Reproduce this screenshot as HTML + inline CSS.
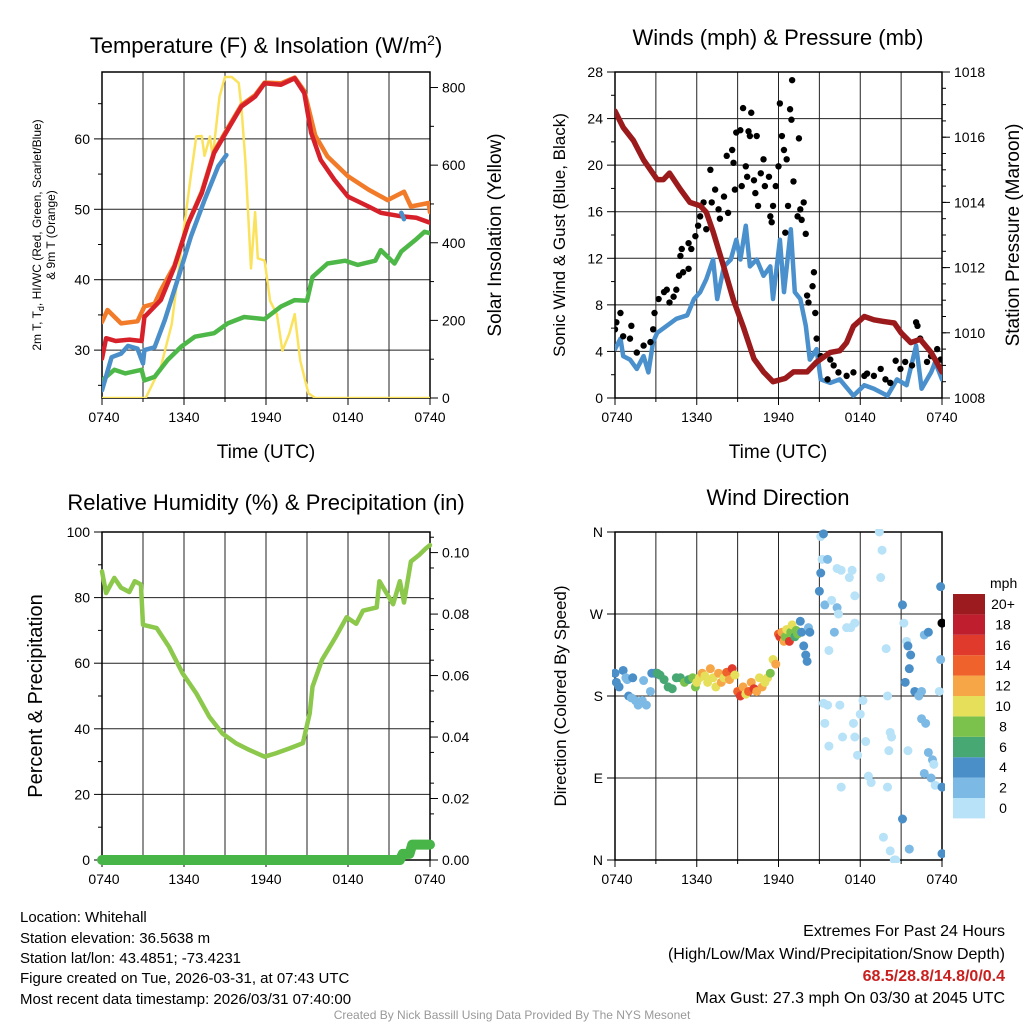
<!DOCTYPE html>
<html><head><meta charset="utf-8"><style>
html,body{margin:0;padding:0;background:#fff;}
svg{display:block;font-family:"Liberation Sans",sans-serif;}
</style></head><body>
<svg id="c" width="1024" height="1024" viewBox="0 0 1024 1024" xmlns="http://www.w3.org/2000/svg">
<text x="266" y="53" text-anchor="middle" font-size="22">Temperature (F) &amp; Insolation (W/m<tspan dy="-8" font-size="14">2</tspan><tspan dy="8">)</tspan></text>
<text x="778" y="45" text-anchor="middle" font-size="22">Winds (mph) &amp; Pressure (mb)</text>
<text x="266" y="510" text-anchor="middle" font-size="22">Relative Humidity (%) &amp; Precipitation (in)</text>
<text x="778" y="505" text-anchor="middle" font-size="22">Wind Direction</text>
<text x="266" y="458" text-anchor="middle" font-size="19">Time (UTC)</text>
<text x="778" y="458" text-anchor="middle" font-size="19">Time (UTC)</text>
<text transform="translate(41,235) rotate(-90)" text-anchor="middle" font-size="12">2m T, T<tspan dy="3" font-size="9">d</tspan><tspan dy="-3">, HI/WC (Red, Green, Scarlet/Blue)</tspan></text>
<text transform="translate(55,235) rotate(-90)" text-anchor="middle" font-size="12">&amp; 9m T (Orange)</text>
<text transform="translate(501,235) rotate(-90)" text-anchor="middle" font-size="19">Solar Insolation (Yellow)</text>
<text transform="translate(565,235) rotate(-90)" text-anchor="middle" font-size="17">Sonic Wind &amp; Gust (Blue, Black)</text>
<text transform="translate(1019,235) rotate(-90)" text-anchor="middle" font-size="19">Station Pressure (Maroon)</text>
<text transform="translate(42,696) rotate(-90)" text-anchor="middle" font-size="20">Percent &amp; Precipitation</text>
<text transform="translate(566,696) rotate(-90)" text-anchor="middle" font-size="17">Direction (Colored By Speed)</text>
<g font-size="15">
<text x="20" y="922">Location: Whitehall</text>
<text x="20" y="943">Station elevation: 36.5638 m</text>
<text x="20" y="963">Station lat/lon: 43.4851; -73.4231</text>
<text x="20" y="983">Figure created on Tue, 2026-03-31, at 07:43 UTC</text>
<text x="20" y="1004">Most recent data timestamp: 2026/03/31 07:40:00</text>
</g>
<g font-size="16" text-anchor="end">
<text x="1005" y="936">Extremes For Past 24 Hours</text>
<text x="1005" y="959">(High/Low/Max Wind/Precipitation/Snow Depth)</text>
<text x="1005" y="981" fill="#c8201f" font-weight="bold">68.5/28.8/14.8/0/0.4</text>
<text x="1005" y="1003">Max Gust: 27.3 mph On 03/30 at 2045 UTC</text>
</g>
<text x="512" y="1019" text-anchor="middle" font-size="12" fill="#999">Created By Nick Bassill Using Data Provided By The NYS Mesonet</text>
</svg>
<script>
// ---- data (hours since 0740 UTC) ----
const xTickHours=[0,6,12,18,24];
const xTickLabels=["0740","1340","1940","0140","0740"];
const redT=[0,0.3,1,2,2.9,3.1,4.3,5.3,6.3,7.3,8.2,9.2,10.2,11.2,11.9,13.1,14.1,14.8,15.3,16,17,18,19.5,20.4,21.9,23,24];
const redV=[28.8,31.7,31.3,31.5,31.3,34.7,37.1,41.8,48,52.3,58,61.3,64.6,66,67.9,67.7,68.6,66.5,60.9,57,54.2,51.8,50.4,49.5,49,48.8,48.1];
const orangeT=[0,0.4,1.4,2.6,3.1,3.85,4.3,5.3,6.3,7.3,8.2,9.2,10.2,11.2,11.9,13.1,14.1,14.8,15.6,16.5,18,19.5,20.9,22.1,22.6,23.9,24];
const orangeV=[34,35.7,33.8,34.1,36.2,36.6,38.5,42,48,52.5,58.2,61.5,64.8,66.2,68,67.9,68.7,66.8,60.5,57.5,54.7,52.8,51.3,52.5,50.4,50.9,49.6];
const blueT=[0,0.7,1.4,1.9,2.6,3,3.1,3.85,4.6,5.6,6.5,7.5,8.5,9.1];
const blueV=[24.3,29,29.5,30.6,30.2,28.1,30,30.4,34.3,40.4,46.1,51.3,56.1,57.7];
const blue2T=[21.9,22.1];
const blue2V=[49.5,48.6];
const greenT=[0,0.9,1.7,2.9,3.1,3.85,4.8,5.8,6.8,8.2,9.2,10.4,11.9,13.1,14.1,15,15.4,16.5,17.8,18.7,20,20.4,21.4,21.9,22.9,23.6,24];
const greenV=[25.7,27.2,26.7,27.2,25.7,26.2,28.6,30.5,31.9,32.4,33.8,34.7,34.4,36.2,37.1,37,40.4,42.3,42.7,42.1,42.7,44.2,42.3,44,45.6,46.8,46.6];
const solarT=[0,3.2,3.6,4.3,5.1,5.8,6.5,6.9,7.3,7.5,7.9,8.1,8.6,9,9.5,10,10.2,10.5,10.9,11.2,11.4,11.9,12.3,12.8,13.2,13.7,14.1,14.5,15.1,15.6,24];
const solarV=[0,0,29,80,190,385,572,674,675,624,674,620,776,827,827,812,750,606,334,479,360,354,250,216,122,165,216,97,12,0,0];
const windT=[0,0.4,0.6,1.1,1.6,2.1,2.45,2.8,3.1,3.8,4.5,5.3,5.8,6.25,6.7,7.2,7.5,8,8.5,8.9,9.2,9.6,9.9,10.4,10.9,11.4,11.6,12.1,12.4,12.9,13.2,13.6,14,14.3,14.8,15.1,15.8,16.5,17.5,18.3,19,20,20.7,21.4,22.1,22.5,23.2,23.5,24];
const windV=[4.2,5.1,3.6,3.3,2.5,3.6,2.2,4.8,5.6,6.2,6.8,7.1,8.5,9.1,10.2,11.9,8.5,11.3,11.9,13.6,11.9,14.8,11.3,11.9,10.5,11.3,8.5,13.6,9.1,14.5,9.1,8.5,6.2,3.3,4.2,1.6,1.3,1.6,0.2,1.1,0.8,0.2,1.6,1.1,4.5,0.8,2.2,3.1,1.6];
const gustT=[0,0.1,0.4,0.6,1.1,1.2,1.6,2.1,2.6,2.8,2.9,3.2,3.6,3.8,4.0,4.3,4.5,4.7,5.0,5.4,4.8,4.9,5.4,5.6,5.9,6.1,6.25,6.5,6.7,7.0,7.1,7.35,7.6,7.7,8.0,8.2,8.3,8.6,8.7,8.8,8.9,9.2,9.3,9.4,9.6,9.7,9.8,9.9,10.0,10.2,10.3,10.4,10.5,10.7,10.9,11.0,11.3,11.4,11.5,11.6,11.8,12.0,12.1,12.25,12.4,12.5,12.6,12.7,12.85,12.95,13.0,13.1,13.4,13.5,13.6,13.7,13.85,14.0,14.1,14.2,14.5,14.6,14.7,14.8,15.1,15.6,15.8,16.05,16.4,17.0,17.5,18.3,18.5,19.0,19.5,19.85,20.2,20.6,20.95,21.3,21.8,22.1,22.2,22.4,22.9,23.2,23.65,23.9];
const gustV=[5.9,6.5,7.3,5.3,5.1,6.2,3.9,4.5,4.8,5.9,7.3,8.5,9.1,9.3,8.2,8.7,9.3,10.5,10.8,11.1,12.2,12.8,13.3,12.8,13.9,14.8,15.6,16.8,14.5,19.6,16.8,17.9,16.2,15.4,17.3,20.8,15.9,21.3,20.2,17.9,22.8,23,18.2,24.9,19.9,19,22.9,22.5,24.5,18.7,17.6,22.5,16.5,19.3,20.5,18.2,19,15.6,15.1,16.5,18.2,19.9,25.3,22.5,21.3,14.2,20.5,16.5,24.8,23.9,27.3,18.6,15.6,22.3,16.2,15.3,16.8,14.1,8.8,8.2,9.6,10.8,7.3,5.1,3.6,1.6,3.3,2.8,2.2,1.9,2.2,1.9,2.1,1.9,2.5,1.6,1.3,3.2,2.5,3.1,2.8,6.5,6.2,5.1,3.1,3.6,4.2,3.3];
const presT=[0,0.6,1.35,2.1,3.1,3.55,4,4.8,5.5,6.25,6.7,7.2,8,8.7,9.4,10.2,10.9,11.6,12.5,13.1,13.6,14.1,14.8,15.8,16.5,17,17.5,18.3,19,19.7,20.5,21,21.7,22.4,23.2,24];
const presV=[1016.8,1016.3,1015.9,1015.3,1014.7,1014.7,1014.9,1014.4,1014.0,1013.9,1013.7,1013.1,1012.0,1011.0,1010.2,1009.2,1008.8,1008.5,1008.6,1008.8,1008.8,1008.8,1009.1,1009.4,1009.45,1009.7,1010.2,1010.5,1010.4,1010.35,1010.3,1010.0,1009.7,1009.8,1009.4,1008.8];
const rhT=[0,0.3,0.9,1.4,2.0,2.4,2.85,3.0,4.0,4.9,5.9,6.9,7.85,8.8,9.8,10.8,11.9,12.7,13.7,14.7,15.2,15.4,16.1,17.1,17.9,18.6,19.1,20.1,20.3,21.3,21.8,22.1,22.6,23.2,23.7,24];
const rhV=[88,81.4,86,83,81.7,85,84,71.7,70.7,65,56.9,50.8,43.7,38.6,35.6,33.5,31.5,32.5,34,35.6,44.7,52.8,61,68,74,72,76,77,85,78,85,78.5,91,93,95,96];
const precipT=[0,21.8,22.0,22.5,22.7,24];
const precipV=[0,0,0.002,0.002,0.005,0.005];
const dirT=[0,0.1,0.3,0.6,0.8,0.9,1.0,1.2,1.3,1.5,1.7,2.0,2.1,2.3,2.6,2.7,2.9,3.1,3.3,3.6,3.9,4.2,4.5,4.8,5.1,5.4,5.7,5.9,6.0,6.2,6.4,6.6,6.8,7.0,7.2,7.4,7.6,7.8,8.0,8.2,8.4,8.6,8.8,9.0,9.2,9.4,9.6,9.8,10.0,10.2,10.4,10.6,10.8,11.0,11.2,11.4,11.6,11.8,12.0,12.1,12.25,12.4,12.5,12.6,12.8,12.9,13.0,13.2,13.3,13.4,13.6,13.7,13.85,14.0,14.1,14.2,14.3,15.1,15.3,15.2,15.6,15.1,15.0,15.4,15.7,15.9,16.3,16.6,16.3,17.0,17.3,17.2,17.4,17.6,17.6,16.4,16.1,15.4,15.3,15.6,15.7,16.5,16.7,16.6,17.5,17.6,17.8,18.0,18.2,18.4,18.6,18.8,19.4,19.6,19.5,19.9,20.0,20.2,20.3,20.1,20.0,19.7,20.2,20.5,20.6,21.2,21.4,21.5,21.3,21.6,21.7,22.0,22.3,22.5,22.8,23.0,23.3,23.4,23.2,23.5,24.0,24.0,21.6,21.1,21.1,21.5,22.7,23.0,22.7,22.5,23.8,23.9,23.9,24.0];
const dirV=[205,195,190,208,200,198,180,178,200,175,170,175,197,170,185,205,205,205,203,198,190,188,200,200,195,198,200,190,195,200,205,202,195,210,200,190,205,195,200,206,198,210,203,185,180,190,182,185,195,188,185,200,190,195,200,205,220,215,248,245,250,240,245,253,240,250,258,245,252,248,262,250,235,225,218,255,250,355,358,330,330,315,295,280,230,285,320,318,277,255,255,310,318,260,290,270,250,150,172,170,125,170,135,80,150,135,115,160,175,130,92,85,360,340,310,232,180,140,135,120,80,25,10,0,0,260,240,235,195,210,225,185,180,155,150,118,110,105,90,82,80,7,12,45,280,120,247,250,95,185,185,300,220,260];
const dirS=[4,4,4,4,2,2,4,2,4,2,2,2,2,2,2,4,4,6,6,6,6,6,6,6,8,6,8,8,10,10,12,10,10,12,10,10,12,12,10,14,12,16,10,14,16,12,10,14,12,16,12,10,12,10,10,8,10,12,14,16,12,12,8,10,16,8,10,6,8,8,4,4,4,4,4,2,4,0,4,0,2,4,4,2,0,0,0,0,2,0,0,0,0,0,0,0,2,0,0,0,0,0,0,0,0,0,0,0,0,0,0,0,0,0,0,0,0,0,0,0,0,0,0,0,0,0,0,4,4,4,4,4,2,2,2,2,2,0,2,0,4,4,2,4,4,0,2,4,2,2,0,4,2];
const cbLabels=["0","2","4","6","8","10","12","14","16","18","20+"];
const cbColors=["#b7e2f7","#7db9e5","#4a8fc7","#48a874","#7bc24c","#e6df5a","#f7a647","#f0622b","#e03a2d","#be1e2d","#9b1b1f"];

const NS="http://www.w3.org/2000/svg";
const svg=document.getElementById('c');
function el(tag,attrs,parent){const e=document.createElementNS(NS,tag);for(const k in attrs)e.setAttribute(k,attrs[k]);(parent||svg).appendChild(e);return e;}
function scale(d0,d1,r0,r1){return v=>r0+(v-d0)/(d1-d0)*(r1-r0);}
function pathD(ts,vs,sx,sy){return ts.map((t,i)=>(i?'L':'M')+sx(t).toFixed(1)+' '+sy(vs[i]).toFixed(1)).join(' ');}

function frame(name,x0,x1,y0,y1,left,right){
  const g=el('g',{});
  
  
  const sx=scale(0,24,x0,x1);
  const syL=scale(left.min,left.max,y1,y0);
  // vertical grid every 3h
  for(let h=3;h<24;h+=3){const l=el('line',{x1:sx(h),x2:sx(h),y1:y0,y2:y1,stroke:'#222','stroke-width':1},g);
    }
  left.ticks.forEach((v,i)=>{const y=syL(v);
    if(left.grid){const l=el('line',{x1:x0,x2:x1,y1:y,y2:y,stroke:'#222','stroke-width':1},g);
      }
    el('line',{x1:x0-8,x2:x0,y1:y,y2:y,stroke:'#000','stroke-width':1},g);
    const t=el('text',{x:x0-12,y:y+5,'text-anchor':'end','font-size':14},g);t.textContent=left.labels[i];
    });
  (left.minor||[]).forEach(v=>{const y=syL(v);el('line',{x1:x0-4,x2:x0,y1:y,y2:y,stroke:'#000'},g);});
  if(right){const syR=scale(right.min,right.max,y1,y0);
    right.ticks.forEach((v,i)=>{const y=syR(v);el('line',{x1:x1,x2:x1+8,y1:y,y2:y,stroke:'#000'},g);
      const t=el('text',{x:x1+12,y:y+5,'font-size':14},g);t.textContent=right.labels[i];
      });
    (right.minor||[]).forEach(v=>{const y=syR(v);el('line',{x1:x1,x2:x1+4,y1:y,y2:y,stroke:'#000'},g);});}
  xTickHours.forEach((h,i)=>{el('line',{x1:sx(h),x2:sx(h),y1:y1,y2:y1+7,stroke:'#000'},g);
    const t=el('text',{x:sx(h)+(i==0?2:0),y:y1+24,'text-anchor':'middle','font-size':14},g);t.textContent=xTickLabels[i];
    });
  for(let h=3;h<24;h+=6)el('line',{x1:sx(h),x2:sx(h),y1:y1,y2:y1+4,stroke:'#000'},g);
  const b=el('rect',{x:x0,y:y0,width:x1-x0,height:y1-y0,fill:'none',stroke:'#000','stroke-width':1.5});
  
  return {sx,syL,syR:right?scale(right.min,right.max,y1,y0):null,g};
}
function range(a,b,s){const r=[];for(let v=a;v<=b+1e-9;v+=s)r.push(+v.toFixed(4));return r;}
function line(name,ts,vs,sx,sy,color,w,cap){const p=el('path',{d:pathD(ts,vs,sx,sy),fill:'none',stroke:color,'stroke-width':w,'stroke-linejoin':'round','stroke-linecap':cap||'round'});
  return p;}

// Panel 1
const P1=frame('temperature',102,430,72,398,
  {min:23.2,max:69.5,ticks:[30,40,50,60],labels:["30","40","50","60"],minor:[25,35,45,55,65],grid:true},
  {min:0,max:840,ticks:[0,200,400,600,800],labels:["0","200","400","600","800"],minor:[100,300,500,700]});
const clip1=el('clipPath',{id:'cp1'});el('rect',{x:102,y:72,width:328,height:326},clip1);
const g1=el('g',{'clip-path':'url(#cp1)'});
const l1a=line('solar-insolation-line',solarT,solarV,P1.sx,P1.syR,'#fbe25c',2.5);g1.appendChild(l1a);
const l1b=line('dewpoint-line',greenT,greenV,P1.sx,P1.syL,'#4db848',4.5);g1.appendChild(l1b);
const l1c=line('temp-9m-line',orangeT,orangeV,P1.sx,P1.syL,'#f27b2a',4.5);g1.appendChild(l1c);
const l1d=line('windchill-line',blueT,blueV,P1.sx,P1.syL,'#4a8fc9',4.5);g1.appendChild(l1d);
const l1e=line('temp-2m-line',redT,redV,P1.sx,P1.syL,'#d6202a',4.5);g1.appendChild(l1e);
const l1f=line('windchill-line-2',blue2T,blue2V,P1.sx,P1.syL,'#4a8fc9',4.5);g1.appendChild(l1f);

// Panel 2
const P2=frame('winds',615,942,72,398,
  {min:0,max:28,ticks:[0,4,8,12,16,20,24,28],labels:["0","4","8","12","16","20","24","28"],minor:[2,6,10,14,18,22,26],grid:true},
  {min:1008,max:1018,ticks:[1008,1010,1012,1014,1016,1018],labels:["1008","1010","1012","1014","1016","1018"],minor:range(1008.5,1017.5,0.5)});
const clip2=el('clipPath',{id:'cp2'});el('rect',{x:615,y:72,width:327,height:326},clip2);
const g2=el('g',{'clip-path':'url(#cp2)'});
g2.appendChild(line('sustained-wind-line',windT,windV,P2.sx,P2.syL,'#4a90cc',4.5));
gustT.forEach((t,i)=>{const c=el('circle',{cx:P2.sx(t),cy:P2.syL(gustV[i]),r:3.2,fill:'#000'},g2);
  
  });
g2.appendChild(line('pressure-line',presT,presV,P2.sx,P2.syR,'#9b1a1c',5.5));

// Panel 3
const P3=frame('humidity',102,430,532,860,
  {min:0,max:100,ticks:[0,20,40,60,80,100],labels:["0","20","40","60","80","100"],minor:[10,30,50,70,90],grid:true},
  {min:0,max:0.1067,ticks:[0,0.02,0.04,0.06,0.08,0.10],labels:["0.00","0.02","0.04","0.06","0.08","0.10"],minor:range(0.005,0.105,0.01)});
line('relative-humidity-line',rhT,rhV,P3.sx,P3.syL,'#8cc84b',4.5);
line('precipitation-line',precipT,precipV,P3.sx,P3.syR,'#48b548',10);

// Panel 4
const P4=frame('direction',615,942,532,860,
  {min:0,max:360,ticks:[0,90,180,270,360],labels:["N","E","S","W","N"],minor:[],grid:true},null);
const clip4=el('clipPath',{id:'cp4'});el('rect',{x:612,y:529,width:333,height:334},clip4);
const g4=el('g',{'clip-path':'url(#cp4)'});
dirT.forEach((t,i)=>{const idx=Math.min(10,Math.floor(dirS[i]/2));
  const c=el('circle',{cx:P4.sx(t),cy:P4.syL(dirV[i]),r:4.5,fill:cbColors[idx]},g4);
  
  });
// colorbar
const cb=el('g',{});


const cbTitle=el('text',{x:990,y:588,'font-size':14},cb);cbTitle.textContent='mph';
cbColors.forEach((c,i)=>{const y=798-i*20.4;
  const r=el('rect',{x:953,y:y,width:32,height:20.4,fill:c},cb);
  
  
  const t=el('text',{x:1003,y:y+15,'text-anchor':'middle','font-size':14},cb);t.textContent=cbLabels[i];
  
  });
</script>
</body></html>
